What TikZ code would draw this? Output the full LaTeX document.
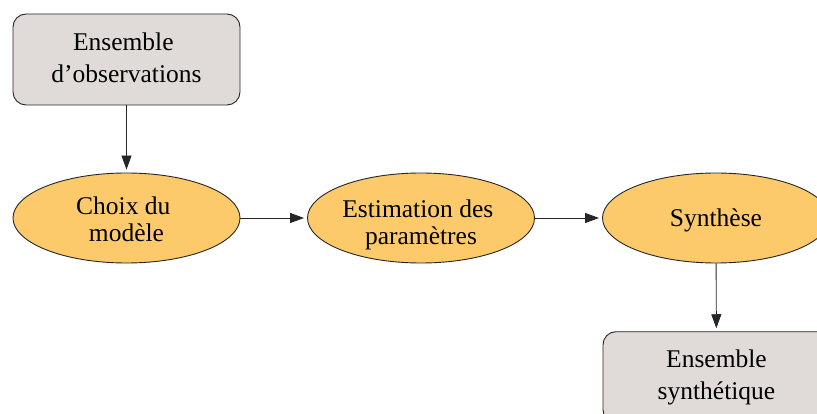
\documentclass[tikz,border=0pt]{standalone}
\usepackage{fontspec}
\setmainfont{Liberation Serif}
\usetikzlibrary{shapes.geometric,arrows.meta}
\definecolor{boxfill}{RGB}{224,218,216}
\definecolor{ellfill}{RGB}{252,202,106}
\newcommand{\topstrut}[1]{\rule{0pt}{#1pt}}
\newcommand{\botstrut}{\rule[-8pt]{0pt}{8pt}}
\newcommand{\trail}{\hspace*{0.25em}}
\tikzset{
  base/.style={draw=black!85, line width=0.9pt, align=center, inner sep=0pt, text=black},
  databox/.style={base, rectangle, rounded corners=13pt, fill=boxfill,
    minimum width=227pt, minimum height=91pt, font=\fontsize{25.5}{31.5}\selectfont},
  procell/.style={base, ellipse, fill=ellfill, minimum width=227pt, minimum height=90pt,
    inner xsep=0pt, inner ysep=-10pt, font=\fontsize{25.5}{27.7}\selectfont},
  flow/.style={draw=black!85, line width=0.9pt, -{Triangle[length=14pt,width=10pt]}, shorten >=3pt}
}
\begin{document}
\begin{tikzpicture}[x=1pt,y=-1pt]
\useasboundingbox (0,0) rectangle (817,414);
\node[databox] (obs) at (126.5,59.5) {\topstrut{22}Ensemble\trail\\d’observations\botstrut};
\node[procell] (choix) at (126.5,218) {\topstrut{28}Choix du\trail\\modèle\botstrut};
\node[procell] (estim) at (421,218) {\topstrut{34}Estimation des\trail\\paramètres\botstrut};
\node[procell] (synth) at (716,218) {\topstrut{25.4}Synthèse\botstrut};
\node[databox] (ens) at (716.5,377.2) {\topstrut{20.6}Ensemble\\synthétique\botstrut};
\draw[flow] (obs) -- (choix);
\draw[flow] (choix) -- (estim);
\draw[flow] (estim) -- (synth);
\draw[flow] (synth) -- (ens);
\end{tikzpicture}
\end{document}
